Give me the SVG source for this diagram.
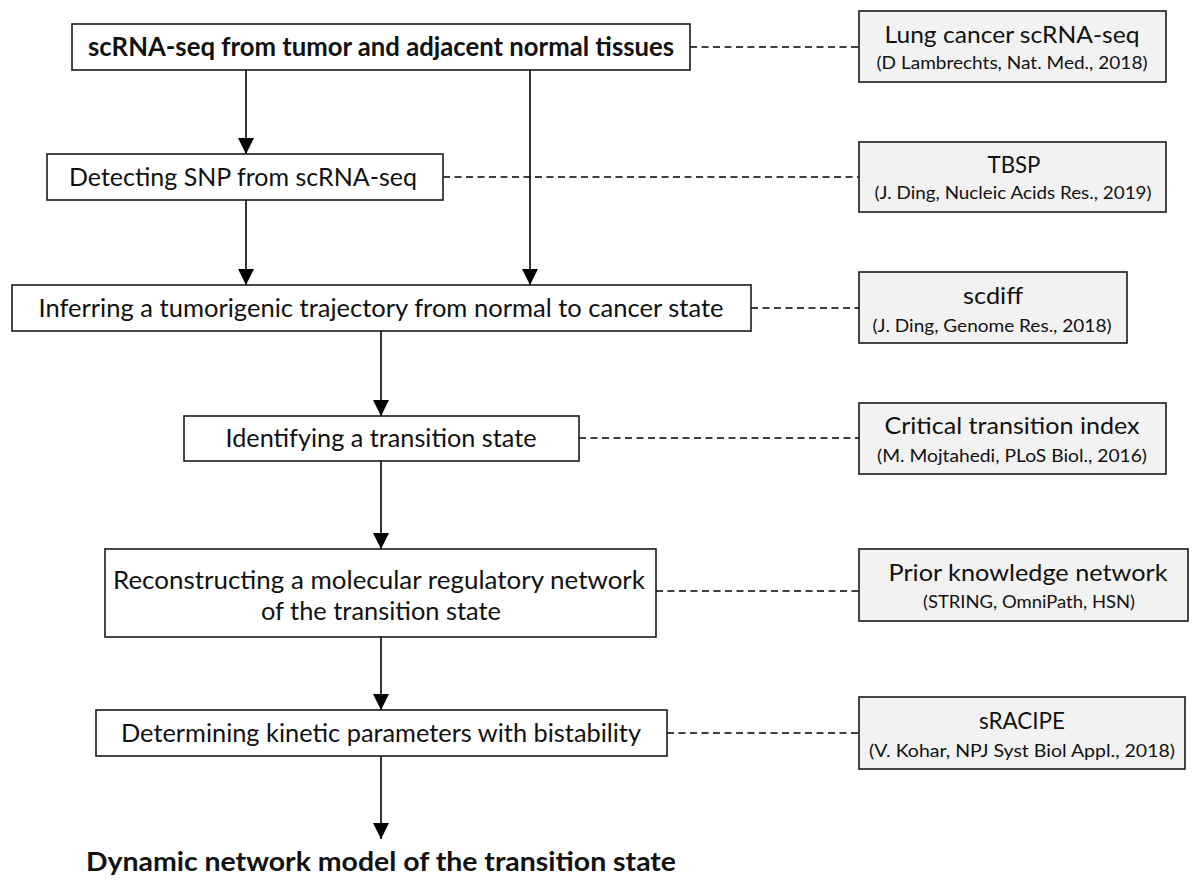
<svg xmlns="http://www.w3.org/2000/svg" width="1194" height="880" viewBox="0 0 1194 880">
  <defs>
    <marker id="arrow" markerWidth="16" markerHeight="16" refX="16" refY="8" orient="auto" markerUnits="userSpaceOnUse" viewBox="0 0 16 16">
      <path d="M0,0 L16,8 L0,16 Z" fill="#000"/>
    </marker>
    <style>
      .step { fill: #fff; stroke: #1a1a1a; stroke-width: 1.6; }
      .ref { fill: #f2f2f2; stroke: #1a1a1a; stroke-width: 1.6; }
      .flow { stroke: #000; stroke-width: 1.6; fill: none; }
      .dash { stroke: #000; stroke-width: 1.3; stroke-dasharray: 7 4.5; fill: none; }
      text { font-family: Lato, "Open Sans", "Liberation Sans", sans-serif; fill: #111; text-anchor: middle; }
      .main { font-size: 25px; }
      .bold { font-size: 26px; font-weight: bold; }
      .title { font-size: 24px; }
      .sub { font-size: 18px; }
      .final { font-size: 27px; font-weight: bold; }
    </style>
  </defs>
  <rect width="1194" height="880" fill="#fff"/>

  <!-- connectors -->
  <g id="connectors">
    <line class="flow" x1="246" y1="70" x2="246" y2="154" marker-end="url(#arrow)"/>
    <line class="flow" x1="530" y1="70" x2="530" y2="285" marker-end="url(#arrow)"/>
    <line class="flow" x1="246" y1="200" x2="246" y2="285" marker-end="url(#arrow)"/>
    <line class="flow" x1="381" y1="331" x2="381" y2="416" marker-end="url(#arrow)"/>
    <line class="flow" x1="381" y1="461" x2="381" y2="549" marker-end="url(#arrow)"/>
    <line class="flow" x1="381" y1="637" x2="381" y2="710" marker-end="url(#arrow)"/>
    <line class="flow" x1="381" y1="756" x2="381" y2="839" marker-end="url(#arrow)"/>
    <line class="dash" x1="690" y1="47" x2="859" y2="47"/>
    <line class="dash" x1="443" y1="177" x2="859" y2="177"/>
    <line class="dash" x1="751" y1="308" x2="859" y2="308"/>
    <line class="dash" x1="579" y1="438" x2="859" y2="438"/>
    <line class="dash" x1="656" y1="591" x2="859" y2="591"/>
    <line class="dash" x1="667" y1="733" x2="859" y2="733"/>
  </g>

  <!-- workflow steps -->
  <g id="step-scrna">
    <rect class="step" x="72" y="24" width="618" height="46"/>
    <text class="bold" x="381" y="56" textLength="586" lengthAdjust="spacingAndGlyphs">scRNA-seq from tumor and adjacent normal tissues</text>
  </g>
  <g id="step-snp">
    <rect class="step" x="47" y="154" width="396" height="46"/>
    <text class="main" x="243" y="186" textLength="348" lengthAdjust="spacingAndGlyphs">Detecting SNP from scRNA-seq</text>
  </g>
  <g id="step-trajectory">
    <rect class="step" x="12" y="285" width="739" height="46"/>
    <text class="main" x="381" y="317" textLength="685" lengthAdjust="spacingAndGlyphs">Inferring a tumorigenic trajectory from normal to cancer state</text>
  </g>
  <g id="step-transition">
    <rect class="step" x="184" y="416" width="395" height="45"/>
    <text class="main" x="381" y="447" textLength="311" lengthAdjust="spacingAndGlyphs">Identifying a transition state</text>
  </g>
  <g id="step-network">
    <rect class="step" x="105" y="549" width="551" height="88"/>
    <text class="main" x="379" y="589" textLength="532" lengthAdjust="spacingAndGlyphs">Reconstructing a molecular regulatory network</text>
    <text class="main" x="381" y="620" textLength="240" lengthAdjust="spacingAndGlyphs">of the transition state</text>
  </g>
  <g id="step-kinetic">
    <rect class="step" x="96" y="710" width="571" height="46"/>
    <text class="main" x="381" y="742" textLength="520" lengthAdjust="spacingAndGlyphs">Determining kinetic parameters with bistability</text>
  </g>
  <g id="result">
    <text class="final" x="381" y="871" textLength="590" lengthAdjust="spacingAndGlyphs">Dynamic network model of the transition state</text>
  </g>

  <!-- resources -->
  <g id="ref-lung">
    <rect class="ref" x="859" y="11" width="307" height="71"/>
    <text class="title" x="1012" y="43" textLength="255" lengthAdjust="spacingAndGlyphs">Lung cancer scRNA-seq</text>
    <text class="sub" x="1012" y="69" textLength="271" lengthAdjust="spacingAndGlyphs">(D Lambrechts, Nat. Med., 2018)</text>
  </g>
  <g id="ref-tbsp">
    <rect class="ref" x="859" y="142" width="307" height="70"/>
    <text class="title" x="1014" y="173" textLength="53" lengthAdjust="spacingAndGlyphs">TBSP</text>
    <text class="sub" x="1013" y="199" textLength="277" lengthAdjust="spacingAndGlyphs">(J. Ding, Nucleic Acids Res., 2019)</text>
  </g>
  <g id="ref-scdiff">
    <rect class="ref" x="859" y="272" width="268" height="71"/>
    <text class="title" x="993" y="304" textLength="60" lengthAdjust="spacingAndGlyphs">scdiff</text>
    <text class="sub" x="992" y="332" textLength="239" lengthAdjust="spacingAndGlyphs">(J. Ding, Genome Res., 2018)</text>
  </g>
  <g id="ref-cti">
    <rect class="ref" x="859" y="403" width="307" height="71"/>
    <text class="title" x="1012" y="434" textLength="255" lengthAdjust="spacingAndGlyphs">Critical transition index</text>
    <text class="sub" x="1012" y="462" textLength="270" lengthAdjust="spacingAndGlyphs">(M. Mojtahedi, PLoS Biol., 2016)</text>
  </g>
  <g id="ref-prior">
    <rect class="ref" x="859" y="549" width="329" height="72"/>
    <text class="title" x="1028" y="581" textLength="279" lengthAdjust="spacingAndGlyphs">Prior knowledge network</text>
    <text class="sub" x="1029" y="608" textLength="212" lengthAdjust="spacingAndGlyphs">(STRING, OmniPath, HSN)</text>
  </g>
  <g id="ref-sracipe">
    <rect class="ref" x="859" y="697" width="326" height="72"/>
    <text class="title" x="1022" y="729" textLength="86" lengthAdjust="spacingAndGlyphs">sRACIPE</text>
    <text class="sub" x="1022" y="757" textLength="306" lengthAdjust="spacingAndGlyphs">(V. Kohar, NPJ Syst Biol Appl., 2018)</text>
  </g>
</svg>
